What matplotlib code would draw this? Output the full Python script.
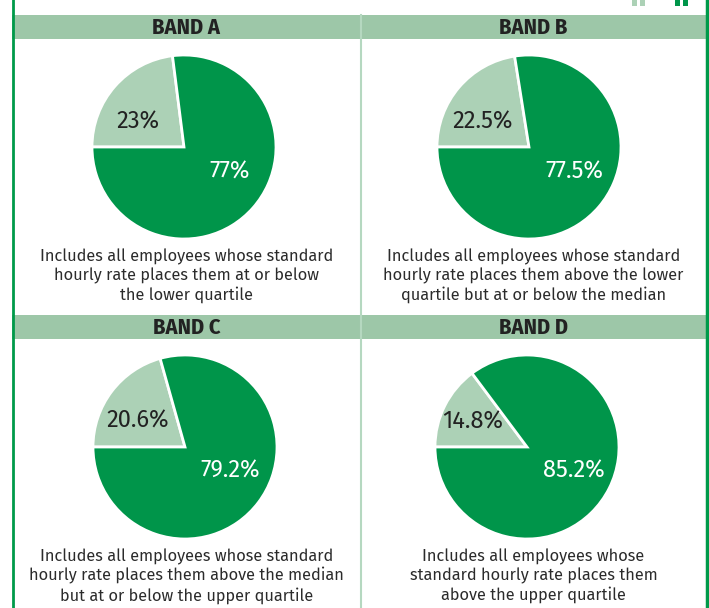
import matplotlib
matplotlib.use("Agg")
import logging
logging.getLogger("matplotlib.font_manager").setLevel(logging.ERROR)
import matplotlib.pyplot as plt
from matplotlib.patches import Rectangle

# ---- data ----
bands = ["BAND A", "BAND B", "BAND C", "BAND D"]
light_share = [23, 22.5, 20.6, 14.8]
dark_share = [77, 77.5, 79.2, 85.2]
light_labels = ["23%", "22.5%", "20.6%", "14.8%"]
dark_labels = ["77%", "77.5%", "79.2%", "85.2%"]
captions = [
    "Includes all employees whose standard\nhourly rate places them at or below\nthe lower quartile",
    "Includes all employees whose standard\nhourly rate places them above the lower\nquartile but at or below the median",
    "Includes all employees whose standard\nhourly rate places them above the median\nbut at or below the upper quartile",
    "Includes all employees whose\nstandard hourly rate places them\nabove the upper quartile",
]

# ---- style / layout ----
W, H = 709, 608
DARK = "#00954a"
LIGHT = "#acd1b6"
BAND = "#9dc7a8"
BORDER = "#009a4a"
DIVIDER = "#b5d8c0"
TXT = "#2b2b2b"
BODY_FONT = ["Fira Sans", "Noto Sans", "DejaVu Sans"]
HEAD_FONT = ["Fira Sans Condensed", "DejaVu Sans"]

centers = [(184, 147), (529, 147), (185, 447), (527, 447)]
R = 92
light_off = [(-46, -25), (-46, -25), (-47, -26), (-54, -25)]
dark_off = [(46, 25), (45, 25), (45, 24), (47, 24)]
header_y = [(15, 39), (15, 39), (315, 339), (315, 339)]
caption_y = [276, 276, 576, 576]

fig = plt.figure(figsize=(W / 100, H / 100), dpi=100)
bg = fig.add_axes([0, 0, 1, 1])
bg.set_xlim(0, W)
bg.set_ylim(H, 0)
bg.axis("off")

for (y0, y1) in [(15, 39), (315, 339)]:
    bg.add_patch(Rectangle((12, y0), 694, y1 - y0, color=BAND, lw=0, zorder=1))
bg.plot([361, 361], [15, H], color=DIVIDER, lw=1.5, zorder=2)
bg.plot([12.5, 12.5], [0, H], color=BORDER, lw=2, zorder=3)
bg.plot([706.5, 706.5], [0, H], color=BORDER, lw=2.5, zorder=3)

for x0, c in [(632, LIGHT), (640, LIGHT), (675, DARK), (683, DARK)]:
    bg.add_patch(Rectangle((x0, 0), 4.5, 6, color=c, lw=0, zorder=2))

for i in range(4):
    cx, cy = centers[i]
    x0, x1 = (12, 361) if i % 2 == 0 else (361, 706)
    hy0, hy1 = header_y[i]
    bg.text((x0 + x1) / 2, (hy0 + hy1) / 2 + 1, bands[i], ha="center", va="center",
            fontsize=16, fontweight="bold", fontstretch="condensed", family=HEAD_FONT,
            color="#222222", zorder=4)
    bg.text((x0 + x1) / 2, caption_y[i], captions[i], ha="center", va="center",
            fontsize=11.8, family=BODY_FONT, color=TXT, linespacing=1.18, zorder=4)

    ax = fig.add_axes([(cx - R) / W, 1 - (cy + R) / H, 2 * R / W, 2 * R / H])
    ax.pie([light_share[i], dark_share[i]], colors=[LIGHT, DARK], startangle=180,
           counterclock=False, radius=1,
           wedgeprops=dict(edgecolor="white", linewidth=2))
    ax.set_xlim(-1.0, 1.0)
    ax.set_ylim(-1.0, 1.0)
    ax.set_aspect("equal")
    ax.axis("off")

    lx, ly = light_off[i]
    dx, dy = dark_off[i]
    ax.text(lx / R, -ly / R, light_labels[i], ha="center", va="center",
            fontsize=17, family=BODY_FONT, fontweight="normal", color="#222222", zorder=5)
    ax.text(dx / R, -dy / R, dark_labels[i], ha="center", va="center",
            fontsize=17, family=BODY_FONT, fontweight="normal", color="white", zorder=5)

fig.savefig("out.png", dpi=100)
